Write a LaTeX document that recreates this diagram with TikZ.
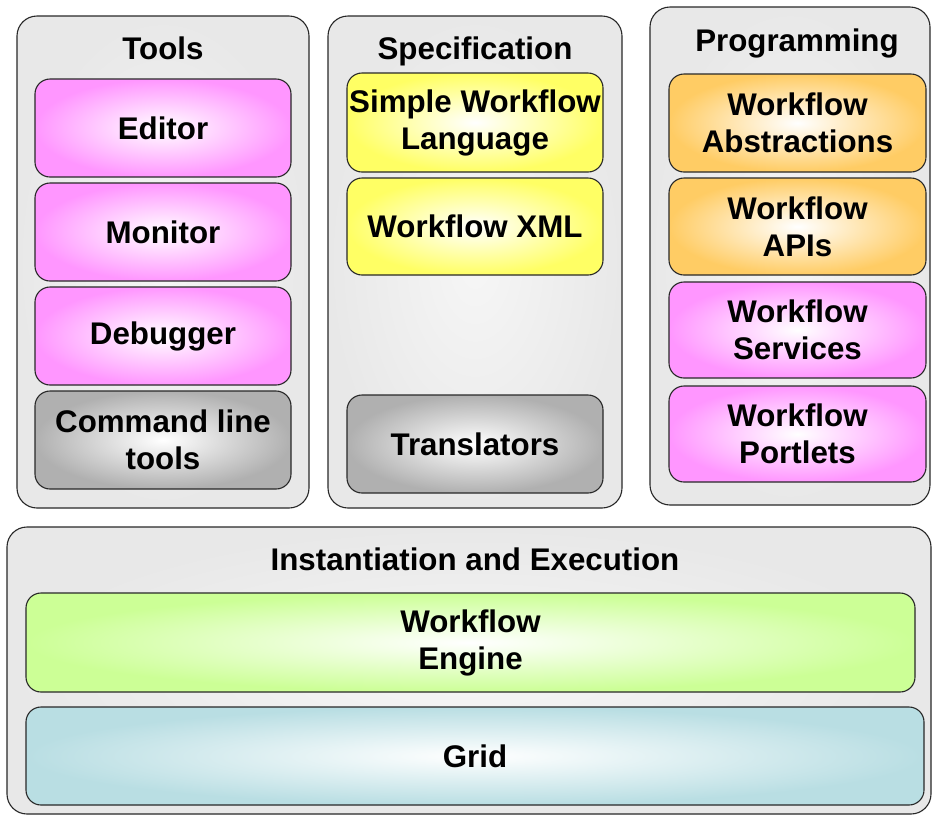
\documentclass[tikz,border=0pt]{standalone}
\usepackage{fontspec}
\setmainfont{Liberation Sans}
\definecolor{panelfill}{RGB}{232,232,232}
\definecolor{panelin}{RGB}{246,246,246}
\definecolor{pinkc}{RGB}{255,150,255}
\definecolor{yellowc}{RGB}{255,255,100}
\definecolor{orangec}{RGB}{255,204,100}
\definecolor{greyc}{RGB}{176,176,176}
\definecolor{greenc}{RGB}{204,255,150}
\definecolor{bluec}{RGB}{185,222,227}
\definecolor{edgec}{RGB}{40,40,40}
\begin{document}
\begin{tikzpicture}[x=1pt,y=-1pt,
  lbl/.style={font=\fontsize{31.3}{37}\selectfont\bfseries, align=center},
  panel/.style={draw=edgec, line width=1.1pt, rounded corners=20pt,
    inner color=panelin, outer color=panelfill},
  box/.style={lbl, draw=edgec, line width=1.1pt, rounded corners=15pt,
    inner sep=0pt, inner color=white},
  pinkbox/.style={box, outer color=pinkc},
  yellowbox/.style={box, outer color=yellowc},
  orangebox/.style={box, outer color=orangec},
  greybox/.style={box, outer color=greyc},
  greenbox/.style={box, outer color=greenc},
  bluebox/.style={box, outer color=bluec},
  colbox/.style={minimum width=256pt, minimum height=98pt},
  title/.style={lbl, anchor=base}]
\clip (0,0) rectangle (932,815);
\fill[white] (0,0) rectangle (932,815);

% the four panels
\path[panel] (17,16) rectangle (309,508);
\path[panel] (328,16) rectangle (622,508);
\path[panel] (650,7) rectangle (930,505);
\path[panel] (7,527) rectangle (931,814);

% panel headings
\node[title] (ttools) at (163,59) {Tools};
\node[title] (tspec) at (475,59) {Specification};
\node[title] (tprog) at (797,51) {Programming};
\node[title] (texec) at (475,570) {Instantiation and Execution};

% tools column
\node[pinkbox, colbox] (editor) at (163,128) {Editor};
\node[pinkbox, colbox] (monitor) at (163,232) {Monitor};
\node[pinkbox, colbox] (debugger) at (163,336) {Debugger};
\node[greybox, colbox] (cmdline) at (163,440) {Command line\\tools};

% specification column
\node[yellowbox, colbox, minimum height=99pt] (swl) at (475,122.5) {Simple Workflow\\Language};
\node[yellowbox, colbox, minimum height=97pt] (wxml) at (475,226.5) {Workflow XML};
\node[greybox, colbox] (transl) at (475,444) {Translators};

% programming column
\node[orangebox, colbox, minimum width=257pt] (abstr) at (797.5,123) {Workflow\\Abstractions};
\node[orangebox, colbox, minimum width=257pt, minimum height=97pt] (apis) at (797.5,226.5) {Workflow\\APIs};
\node[pinkbox, colbox, minimum width=257pt, minimum height=96pt] (services) at (797.5,330) {Workflow\\Services};
\node[pinkbox, colbox, minimum width=257pt, minimum height=96pt] (portlets) at (797.5,434) {Workflow\\Portlets};

% execution layer
\node[greenbox, minimum width=889pt, minimum height=99pt] (engine) at (470.5,642.5) {Workflow\\Engine};
\node[bluebox, minimum width=898pt, minimum height=98pt] (grid) at (475,756) {Grid};
\end{tikzpicture}
\end{document}
